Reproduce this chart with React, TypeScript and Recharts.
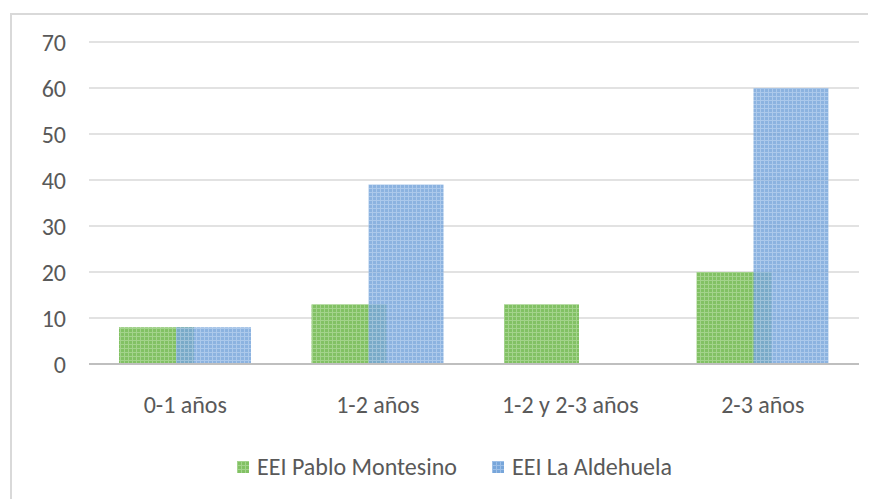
import React from "react";
import { BarChart, Bar, XAxis, YAxis, CartesianGrid } from "recharts";

const categories = ["0-1 años", "1-2 años", "1-2 y 2-3 años", "2-3 años"];
const pabloMontesino = [8, 13, 13, 20];
const laAldehuela = [8, 39, 0, 60];
const yTicks = [0, 10, 20, 30, 40, 50, 60, 70];
const seriesNames = ["EEI Pablo Montesino", "EEI La Aldehuela"];

const data = categories.map((c, i) => ({
  name: c,
  pablo: pabloMontesino[i],
  aldehuela: laAldehuela[i],
}));

const FONT = "Carlito, 'Open Sans', sans-serif";
const TEXT = "#595959";

export default function App() {
  return (
    <div
      style={{
        position: "relative",
        width: 876,
        height: 499,
        marginLeft: -8,
        marginTop: -8,
        overflow: "hidden",
        background: "#fff",
        fontFamily: FONT,
      }}
    >
      <svg width={0} height={0} style={{ position: "absolute" }}>
        <defs>
          <pattern id="pGreen" width={4} height={4} patternUnits="userSpaceOnUse">
            <rect width={4} height={4} fill="#82c164" />
            <rect x={0} y={0} width={4} height={1} fill="#a3d38c" />
            <rect x={0} y={0} width={1} height={4} fill="#a3d38c" />
          </pattern>
          <pattern id="pBlue" width={4} height={4} patternUnits="userSpaceOnUse">
            <rect width={4} height={4} fill="#78a6da" />
            <rect x={0} y={0} width={4} height={1} fill="#9dbfe7" />
            <rect x={0} y={0} width={1} height={4} fill="#9dbfe7" />
          </pattern>
        </defs>
      </svg>
      <div
        style={{
          position: "absolute",
          left: 10,
          top: 13,
          width: 1000,
          height: 1000,
          borderLeft: "2px solid #d9d9d9",
          borderTop: "2px solid #d9d9d9",
        }}
      />
      <div style={{ position: "absolute", left: 0, top: 0 }}>
        <BarChart
          width={876}
          height={499}
          data={data}
          margin={{ top: 42, right: 17, bottom: 105, left: 0 }}
          barSize={75}
          barGap={-18}
        >
          <CartesianGrid vertical={false} stroke="#d9d9d9" strokeWidth={1.5} />
          <XAxis
            dataKey="name"
            height={30}
            tickSize={0}
            tickMargin={32}
            axisLine={{ stroke: "#bfbfbf", strokeWidth: 2 }}
            tick={{ fill: TEXT, fontSize: 24, fontFamily: FONT }}
            interval={0}
          />
          <YAxis
            width={89}
            domain={[0, 70]}
            ticks={yTicks}
            tickSize={0}
            tickMargin={23}
            axisLine={false}
            tick={{ fill: TEXT, fontSize: 24, fontFamily: FONT }}
          />
          <Bar dataKey="pablo" name={seriesNames[0]} fill="url(#pGreen)" isAnimationActive={false} />
          <Bar
            dataKey="aldehuela"
            name={seriesNames[1]}
            fill="url(#pBlue)"
            fillOpacity={0.85}
            isAnimationActive={false}
          />
        </BarChart>
      </div>
      <div
        style={{
          position: "absolute",
          top: 452,
          left: 237,
          display: "flex",
          alignItems: "center",
          color: TEXT,
          fontSize: 24,
          fontFamily: FONT,
          whiteSpace: "nowrap",
        }}
      >
        <svg width={12} height={12} style={{ marginRight: 8 }}>
          <rect width={12} height={12} fill="url(#pGreen)" />
        </svg>
        <span style={{ marginRight: 35 }}>{seriesNames[0]}</span>
        <svg width={12} height={12} style={{ marginRight: 8 }}>
          <rect width={12} height={12} fill="url(#pBlue)" />
        </svg>
        <span>{seriesNames[1]}</span>
      </div>
    </div>
  );
}
